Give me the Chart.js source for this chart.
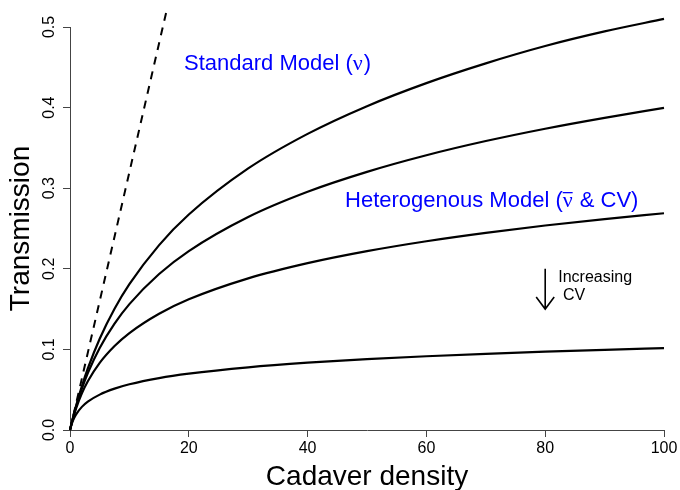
<!DOCTYPE html>
<html>
<head>
<meta charset="utf-8">
<script src="https://cdn.jsdelivr.net/npm/chart.js@4.4.0/dist/chart.umd.min.js"></script>
<style>
  html, body { margin: 0; padding: 0; background: #fff; }
  #wrap { width: 680px; height: 490px; }
</style>
</head>
<body>
<div id="wrap"><canvas id="chart" width="680" height="490"></canvas></div>
<script>
// valores
const density = [0, 0.25, 0.5, 1, 2, 3, 5, 7.5, 10, 15, 20, 30, 40, 50, 60, 70, 80, 90, 100];
const hetCvLow  = [0, 0.0078, 0.0153, 0.0294, 0.0544, 0.0763, 0.1132, 0.1504, 0.1809, 0.2294, 0.2673, 0.3245, 0.3674, 0.4018, 0.4304, 0.4549, 0.4764, 0.4945, 0.510];
const hetCvMid  = [0, 0.0077, 0.0150, 0.0284, 0.0513, 0.0706, 0.1018, 0.1320, 0.1562, 0.1935, 0.2220, 0.2643, 0.2956, 0.3203, 0.3409, 0.3585, 0.3738, 0.3873, 0.3996];
const hetCvHigh = [0, 0.0076, 0.0144, 0.0263, 0.0454, 0.0604, 0.0832, 0.1041, 0.1202, 0.1442, 0.1621, 0.1881, 0.2070, 0.2219, 0.2342, 0.2446, 0.2537, 0.2617, 0.2689];
const hetCvMax  = [0, 0.0067, 0.0118, 0.0191, 0.0287, 0.0352, 0.0439, 0.0513, 0.0567, 0.0644, 0.0699, 0.0778, 0.0835, 0.0879, 0.0915, 0.0945, 0.0972, 0.0995, 0.1016];

const standardX = [0, 17];
const standardY = [0, 0.544];

const xTicks = [0, 20, 40, 60, 80, 100];
const yTicks = [0, 0.1, 0.2, 0.3, 0.4, 0.5];

const SANS = '"Liberation Sans", Arial, Helvetica, sans-serif';
const SERIF = '"Liberation Serif", "Times New Roman", serif';

const pts = (xs, ys) => xs.map((x, i) => ({ x: x, y: ys[i] }));

// deixa as linhas passarem um pouco acima de 0.5, como no R
const CLIP = { left: 4, top: 20, right: 4, bottom: 4 };

const curve = data => ({
    data: data,
    showLine: true,
    borderColor: '#000',
    borderWidth: 2.2,
    pointRadius: 0,
    cubicInterpolationMode: 'monotone',
    fill: false,
    clip: CLIP
});

// textos e seta em coordenadas dos dados
const notes = {
    id: 'notes',
    afterDraw(chart) {
        const { ctx } = chart;
        const x = chart.scales.x, y = chart.scales.y;
        ctx.save();
        ctx.textBaseline = 'alphabetic';
        ctx.textAlign = 'left';

        // Standard Model (ν)
        ctx.fillStyle = '#0000ff';
        let px = x.getPixelForValue(19.2), py = y.getPixelForValue(0.4463);
        ctx.font = '22px ' + SANS;
        ctx.fillText('Standard Model (', px, py);
        px += ctx.measureText('Standard Model (').width;
        ctx.font = '22px ' + SERIF;
        ctx.fillText('\u03bd', px, py);
        px += ctx.measureText('\u03bd').width + 1;
        ctx.font = '22px ' + SANS;
        ctx.fillText(')', px, py);

        // Heterogenous Model (ν̄ & CV)
        px = x.getPixelForValue(46.3); py = y.getPixelForValue(0.2765);
        ctx.font = '22px ' + SANS;
        ctx.fillText('Heterogenous Model (', px, py);
        px += ctx.measureText('Heterogenous Model (').width;
        ctx.font = '22px ' + SERIF;
        const nuW = ctx.measureText('\u03bd').width;
        ctx.fillText('\u03bd', px, py);
        ctx.strokeStyle = '#0000ff';
        ctx.lineWidth = 1.3;
        ctx.beginPath();
        ctx.moveTo(px, py - 14.5);
        ctx.lineTo(px + nuW, py - 14.5);
        ctx.stroke();
        px += nuW + 1;
        ctx.font = '22px ' + SANS;
        ctx.fillText(' & CV)', px, py);

        // seta "Increasing CV"
        ctx.fillStyle = '#000';
        ctx.font = '16px ' + SANS;
        ctx.fillText('Increasing', x.getPixelForValue(82.2), y.getPixelForValue(0.1839));
        ctx.fillText('CV', x.getPixelForValue(83.0), y.getPixelForValue(0.1612));

        const ax = x.getPixelForValue(80);
        const y0 = y.getPixelForValue(0.2), y1 = y.getPixelForValue(0.15);
        ctx.strokeStyle = '#000';
        ctx.lineWidth = 1.6;
        ctx.beginPath();
        ctx.moveTo(ax, y0);
        ctx.lineTo(ax, y1);
        ctx.moveTo(ax - 9, y1 - 12);
        ctx.lineTo(ax, y1);
        ctx.lineTo(ax + 9, y1 - 12);
        ctx.stroke();
        ctx.restore();
    }
};

new Chart(document.getElementById('chart'), {
    type: 'scatter',
    data: {
        datasets: [
            {
                data: pts(standardX, standardY),
                showLine: true,
                borderColor: '#000',
                borderWidth: 2,
                borderDash: [8, 7],
                pointRadius: 0,
                clip: CLIP
            },
            curve(pts(density, hetCvLow)),
            curve(pts(density, hetCvMid)),
            curve(pts(density, hetCvHigh)),
            curve(pts(density, hetCvMax))
        ]
    },
    options: {
        responsive: false,
        animation: false,
        layout: { padding: { left: 0, right: 16, top: 27, bottom: 0 } },
        plugins: { legend: { display: false }, tooltip: { enabled: false } },
        scales: {
            x: {
                type: 'linear',
                min: 0,
                max: 100,
                afterFit: s => { s.height = 60; },
                afterBuildTicks: s => { s.ticks = xTicks.map(v => ({ value: v })); },
                grid: { drawOnChartArea: false, drawTicks: true, tickLength: 7, color: '#444', lineWidth: 1 },
                border: { display: true, color: '#444', width: 1 },
                ticks: { color: '#000', font: { family: SANS, size: 16 }, padding: 2, maxRotation: 0, autoSkip: false },
                title: {
                    display: true, text: 'Cadaver density', color: '#000',
                    font: { family: SANS, size: 28, lineHeight: 0.9 }, padding: { top: 0, bottom: 0.4 }
                }
            },
            y: {
                type: 'linear',
                min: 0,
                max: 0.5,
                afterFit: s => { s.width = 70; },
                afterBuildTicks: s => { s.ticks = yTicks.map(v => ({ value: v })); },
                grid: { drawOnChartArea: false, drawTicks: true, tickLength: 7, color: '#444', lineWidth: 1 },
                border: { display: true, color: '#444', width: 1 },
                ticks: {
                    color: '#000', font: { family: SANS, size: 16 }, padding: 2.5,
                    minRotation: 90, maxRotation: 90, crossAlign: 'center', autoSkip: false,
                    callback: v => v.toFixed(1)
                },
                title: {
                    display: true, text: 'Transmission', color: '#000',
                    font: { family: SANS, size: 28, lineHeight: 1 }, padding: { top: 7, bottom: 0 }
                }
            }
        }
    },
    plugins: [notes]
});
</script>
</body>
</html>
